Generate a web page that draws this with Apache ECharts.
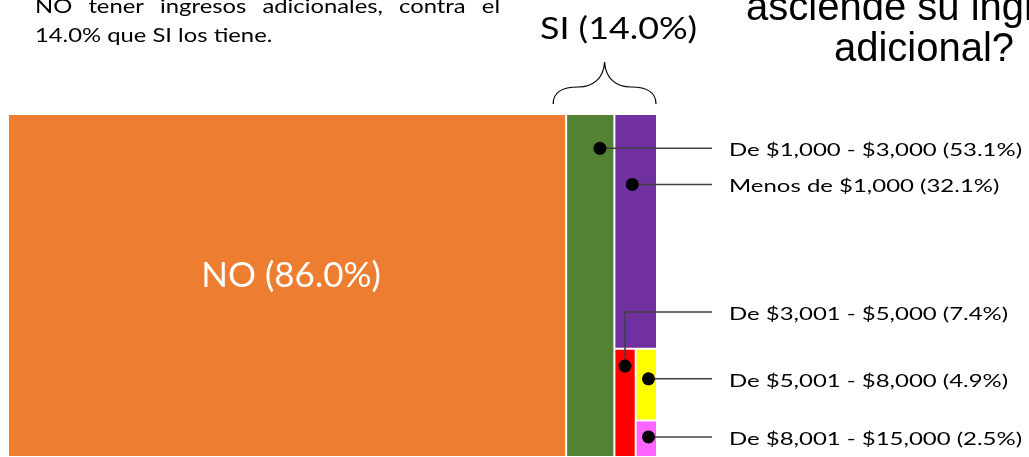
<!DOCTYPE html>
<html>
<head>
<meta charset="utf-8">
<script src="https://cdn.jsdelivr.net/npm/echarts@6/dist/echarts.min.js"></script>
<style>
  html, body { margin: 0; padding: 0; background: #fff; }
  #chart { width: 1029px; height: 457px; }
</style>
</head>
<body>
<div id="chart"></div>
<script>
// ---------- DATA ----------

// Top split: has additional income?
const answerNames = ['NO', 'SI'];
const answerShares = [86.0, 14.0];

// Breakdown of the SI group by amount of additional income
const incomeRanges = ['De $1,000 - $3,000', 'Menos de $1,000', 'De $3,001 - $5,000', 'De $5,001 - $8,000', 'De $8,001 - $15,000'];
const incomeShares = [53.1, 32.1, 7.4, 4.9, 2.5];

// ---------- STYLE ----------

const noColor = '#ED7D31';
const incomeColors = ['#548235', '#7030A0', '#FF0000', '#FFFF00', '#FF66FF'];

// dot position inside each income block (fraction of width, fraction of height from top)
// rise = px the leader goes up before turning right
const callouts = [
    { fx: 0.70, fy: 0.10, rise: 0 },
    { fx: 0.42, fy: 0.30, rise: 0 },
    { fx: 0.50, fy: 0.16, rise: 54 },
    { fx: 0.60, fy: 0.42, rise: 0 },
    { fx: 0.60, fy: 0.45, rise: 0 }
];

// Slice and dice layout: first item takes its share of the box, the rest
// continues in the remaining part, alternating vertical / horizontal cuts
function sliceDice (shares, box, cutX) {
    const out = [];
    let rest = shares.reduce((a, b) => a + b, 0);
    let [x0, x1, y0, y1] = box;
    shares.forEach((s, i) => {
        const f = i === shares.length - 1 ? 1 : s / rest;
        if (cutX) {
            const xm = x0 + (x1 - x0) * f;
            out.push([x0, xm, y0, y1]);
            x0 = xm;
        } else {
            const ym = y1 - (y1 - y0) * f;
            out.push([x0, x1, ym, y1]);
            y1 = ym;
        }
        rest -= s;
        cutX = !cutX;
    });
    return out;
}

const answerBoxes = sliceDice(answerShares, [0, 100, 0, 100], true);
const incomeBoxes = sliceDice(incomeShares, answerBoxes[1], true);

const pct = v => v.toFixed(1) + '%';

// blocks drawn by the custom series
const blocks = [
    { value: answerBoxes[0], name: answerNames[0], kind: 'no', color: noColor, label: `${answerNames[0]} (${pct(answerShares[0])})` }
].concat(incomeBoxes.map((b, i) => ({
    value: b, name: incomeRanges[i], kind: 'leaf', idx: i, color: incomeColors[i],
    label: `${incomeRanges[i]} (${pct(incomeShares[i])})`
})));

const chart = echarts.init(document.getElementById('chart'));

function rectOf (api) {
    const tl = api.coord([api.value(0), api.value(3)]);
    const br = api.coord([api.value(1), api.value(2)]);
    return { x: tl[0], y: tl[1], w: br[0] - tl[0], h: br[1] - tl[1] };
}

function renderBlock (params, api) {
    const item = blocks[params.dataIndex];
    const r = rectOf(api);
    const children = [{
        type: 'rect',
        shape: { x: r.x + 1, y: r.y + 1, width: r.w - 2, height: r.h - 2 },
        style: { fill: item.color },
        z2: 0
    }];
    if (item.kind === 'no') {
        children.push({
            type: 'text',
            x: r.x + r.w / 2 + 4, y: r.y + r.h / 2 - 10,
            style: { text: item.label, fill: '#fff', font: '35px Lato', align: 'center', verticalAlign: 'middle' },
            z2: 5
        });
    } else {
        // callout: dot, leader line and label to the right of the SI column
        const c = callouts[item.idx];
        const siRight = api.coord([100, 0])[0];
        const dx = r.x + r.w * c.fx;
        const dy = r.y + r.h * c.fy;
        const ly = dy - c.rise;
        const pts = c.rise ? [[dx, dy], [dx, ly], [siRight + 55, ly]] : [[dx, dy], [siRight + 55, ly]];
        children.push({
            type: 'polyline', shape: { points: pts },
            style: { stroke: '#404040', lineWidth: 1.5, fill: null }, z2: 20
        });
        children.push({ type: 'circle', shape: { cx: dx, cy: dy, r: 6.5 }, style: { fill: '#000' }, z2: 21 });
        children.push({
            type: 'text',
            x: siRight + 72, y: ly + 2, scaleX: 1.33,
            style: { text: item.label, fill: '#000', font: '18px Lato', align: 'left', verticalAlign: 'middle' },
            z2: 20
        });
    }
    return { type: 'group', children: children };
}

// bracket + "SI (14.0%)" over the SI column
function renderBracket (params, api) {
    const r = rectOf(api);
    const L = r.x - 13, R = r.x + r.w - 1, B = r.y - 10, M = (L + R) / 2;
    const path = `M${L},${B} C${L},${B - 13} ${L + 12},${B - 17} ${L + 25},${B - 17} ` +
        `C${M - 12},${B - 17} ${M - 1},${B - 25} ${M},${B - 42} ` +
        `C${M + 1},${B - 25} ${M + 12},${B - 17} ${R - 25},${B - 17} ` +
        `C${R - 12},${B - 17} ${R},${B - 13} ${R},${B}`;
    return {
        type: 'group',
        children: [
            { type: 'path', shape: { pathData: path }, style: { stroke: '#000', lineWidth: 1.2, fill: null } },
            {
                type: 'text',
                x: r.x + r.w / 2 + 7, y: r.y - 85, scaleX: 1.155,
                style: { text: `${answerNames[1]} (${pct(answerShares[1])})`, fill: '#000', font: '31px Lato', align: 'center', verticalAlign: 'middle' }
            }
        ]
    };
}

// note text above the chart; first line is justified
const noteFont = '20px Lato';
const noteStretch = 1.19;

function justifiedLine (text, left, right, bottom) {
    const ctx = document.createElement('canvas').getContext('2d');
    ctx.font = noteFont;
    const words = text.split(' ');
    const widths = words.map(w => ctx.measureText(w).width * noteStretch);
    const gap = (right - left - widths.reduce((a, b) => a + b, 0)) / (words.length - 1);
    let x = left;
    return words.map((w, i) => {
        const el = { type: 'text', x: x, y: bottom, scaleX: noteStretch, style: { text: w, font: noteFont, fill: '#000', textVerticalAlign: 'bottom' } };
        x += widths[i] + gap;
        return el;
    });
}

const titleFont = '40px "Liberation Sans"';

const option = {
    animation: false,
    grid: { left: 8, right: 372, top: 114, bottom: 0 },
    xAxis: { type: 'value', min: 0, max: 100, show: false },
    yAxis: { type: 'value', min: 0, max: 100, show: false },
    graphic: [
        ...justifiedLine('NO tener ingresos adicionales, contra el', 35, 500, 17),
        { type: 'text', x: 35, y: 46, scaleX: noteStretch, style: { text: '14.0% que SI los tiene.', font: noteFont, fill: '#000', textVerticalAlign: 'bottom' } },
        { type: 'text', x: 924, y: 29, style: { text: 'asciende su ingreso', font: titleFont, fill: '#000', textAlign: 'center', textVerticalAlign: 'bottom' } },
        { type: 'text', x: 924, y: 70, style: { text: 'adicional?', font: titleFont, fill: '#000', textAlign: 'center', textVerticalAlign: 'bottom' } }
    ],
    series: [
        {
            type: 'custom',
            renderItem: renderBlock,
            data: blocks.map(b => ({ value: b.value, name: b.name })),
            silent: true
        },
        {
            type: 'custom',
            renderItem: renderBracket,
            data: [{ value: answerBoxes[1], name: answerNames[1] }],
            silent: true
        }
    ]
};

chart.setOption(option);
</script>
</body>
</html>
